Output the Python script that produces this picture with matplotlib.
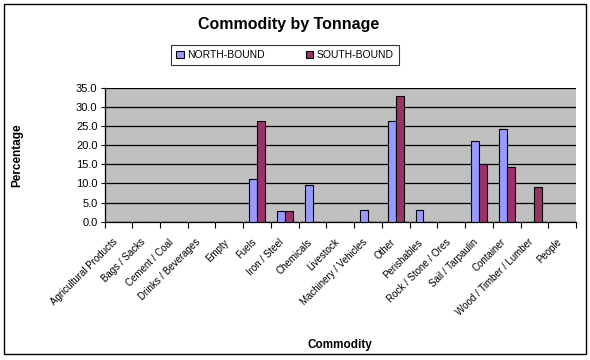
import numpy as np
import matplotlib.pyplot as plt
from matplotlib.patches import Rectangle
from matplotlib.transforms import ScaledTranslation

commodities = ['Agricultural Products', 'Bags / Sacks', 'Cement / Coal', 'Drinks / Beverages',
               'Empty', 'Fuels', 'Iron / Steel', 'Chemicals', 'Livestock', 'Machinery / Vehicles',
               'Other', 'Perishables', 'Rock / Stone / Ores', 'Sail / Tarpaulin', 'Container',
               'Wood / Timber / Lumber', 'People']
north = [0, 0, 0, 0, 0, 11.1, 2.7, 9.5, 0, 3.0, 26.2, 3.0, 0, 21.0, 24.1, 0, 0]
south = [0, 0, 0, 0, 0, 26.2, 2.7, 0, 0, 0, 32.8, 0, 0, 15.2, 14.2, 9.0, 0]
yticks = [0, 5, 10, 15, 20, 25, 30, 35]

plt.rcParams['font.family'] = 'Liberation Sans'

fig = plt.figure(figsize=(5.9, 3.6), dpi=100)
ax = fig.add_axes([104.5/590, 1 - 221.7/360, (576 - 104.5)/590, (221.7 - 87.7)/360])

x = np.arange(len(commodities))
w = 0.286
ax.bar(x - w/2, north, w, color='#9999FF', edgecolor='black', linewidth=0.8, label='NORTH-BOUND', zorder=3)
ax.bar(x + w/2, south, w, color='#993366', edgecolor='black', linewidth=0.8, label='SOUTH-BOUND', zorder=3)

ax.set_facecolor('#C0C0C0')
ax.set_xlim(-0.5, len(commodities) - 0.5)
ax.set_ylim(0, 35)
ax.set_yticks(yticks)
ax.set_yticklabels(['%.1f' % v for v in yticks], fontsize=8)
ax.yaxis.grid(True, color='black', linewidth=0.9, zorder=0)
ax.tick_params(axis='y', length=3, width=0.8, pad=2)

ax.set_xticks(x)
ax.set_xticklabels(commodities, rotation=45, ha='right', rotation_mode='anchor', fontsize=7)
ax.set_xticks(np.arange(-0.5, len(commodities)), minor=True)
ax.tick_params(axis='x', which='major', length=0, pad=11)
ax.tick_params(axis='x', which='minor', length=4, width=0.8, direction='out')
shift = ScaledTranslation(-6/100, 0, fig.dpi_scale_trans)
for lab in ax.get_xticklabels():
    lab.set_transform(lab.get_transform() + shift)

for s in ['top', 'right']:
    ax.spines[s].set_visible(False)
ax.spines['left'].set_linewidth(0.9)
ax.spines['bottom'].set_linewidth(0.9)

fig.text(0.49, 1 - 25/360, 'Commodity by Tonnage', ha='center', va='center', fontsize=11.5, fontweight='bold')
fig.text(340/590, 1 - 345/360, 'Commodity', ha='center', va='center', fontsize=8.5, fontweight='bold')
fig.text(17/590, 1 - 155/360, 'Percentage', ha='center', va='center', rotation=90, fontsize=8.5, fontweight='bold')

leg = fig.legend(loc='center', bbox_to_anchor=(285/590, 1 - 55/360), ncol=2, fontsize=7.5,
                 frameon=True, fancybox=False, edgecolor='black', handlelength=0.7, handleheight=0.7,
                 columnspacing=4.0, handletextpad=0.3, borderpad=0.5)
leg.get_frame().set_linewidth(0.8)

fig.patches.append(Rectangle((4/590, 6/360), 582/590, 350/360, transform=fig.transFigure,
                             fill=False, edgecolor='black', linewidth=1))

fig.savefig('out.png', dpi=100)
